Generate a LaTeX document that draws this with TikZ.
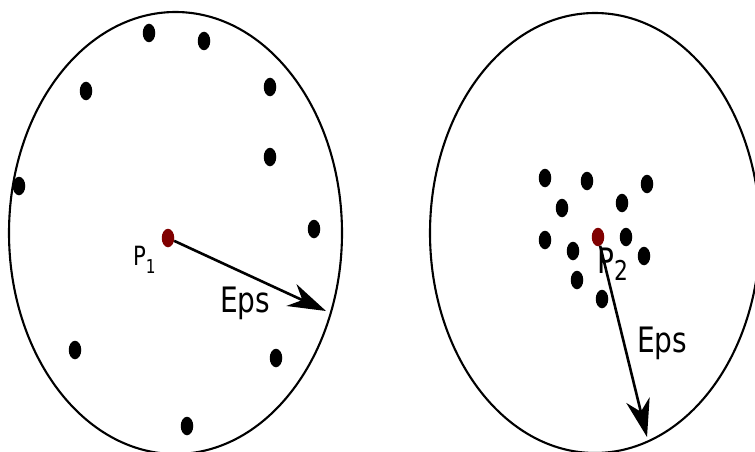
\documentclass[tikz,border=0pt]{standalone}
\usepackage{fontspec}
\setmainfont{DejaVu Sans}[FakeStretch=0.8]
\usetikzlibrary{shapes.geometric, arrows.meta}
\definecolor{corered}{RGB}{128,0,0}

\begin{document}
\begin{tikzpicture}[
  x=1pt, y=-1pt,
  region/.style={draw=black, line width=2.1pt},
  sample/.style={ellipse, fill=#1, minimum width=12.5pt, minimum height=18.5pt, inner sep=0pt},
  sample/.default=black,
  reach/.style={line width=2.6pt, -{Stealth[length=38pt, width=24pt, inset=12pt]}},
  tag/.style={anchor=base west, inner sep=0pt, font=\fontsize{#1}{#1}\selectfont},
]
\clip (0,0) rectangle (755,452);

% --- Left region: sparse neighbourhood
\draw[region] (175.5,233) ellipse [x radius=166.5pt, y radius=221pt];
\foreach \n/\x/\y in {1/149/33, 2/204/41, 3/86/91, 4/270/87, 5/270/157,
                      6/19/186, 7/314/229, 8/75/350, 9/276/358, 10/187/426} {
  \node[sample] (s\n) at (\x,\y) {};
}
\node[sample=corered] (p1) at (168,238) {};
\coordinate (rim1) at (326,311);
\draw[reach] (p1) -- (rim1);
\node[tag=26.5] (lab1) at (133,265) {P\raisebox{-0.32em}{\scalebox{0.72}{1}}};
\node[tag=35] (eps1) at (220,312) {Eps};

% --- Right region: dense neighbourhood
\draw[region] (595,233) ellipse [x radius=165pt, y radius=220pt];
\foreach \n/\x/\y in {1/545/178, 2/587/181, 3/647/184, 4/562/208, 5/622/203,
                      6/545/240, 7/573/251, 8/626/237, 9/644/256, 10/577/280,
                      11/602/299} {
  \node[sample] (d\n) at (\x,\y) {};
}
\node[sample=corered] (p2) at (598,237) {};
\coordinate (rim2) at (647,437);
\draw[reach] (p2) -- (rim2);
\node[tag=35] (lab2) at (597,273) {P\raisebox{-0.2em}{\scalebox{0.78}{2}}};
\node[tag=35] (eps2) at (637,352) {Eps};

\end{tikzpicture}
\end{document}
